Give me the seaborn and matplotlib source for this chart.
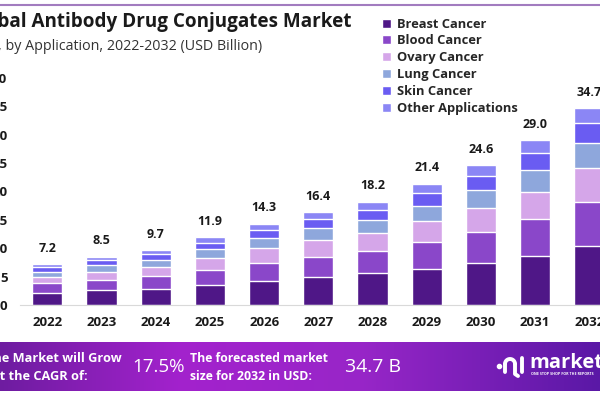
import matplotlib
matplotlib.use("Agg")
import matplotlib.pyplot as plt
import numpy as np
import pandas as pd
import seaborn as sns

# data (USD billion)
years = ["2022", "2023", "2024", "2025", "2026", "2027", "2028", "2029", "2030", "2031", "2032"]
breast = [2.2, 2.6, 2.9, 3.5, 4.3, 5.0, 5.6, 6.4, 7.45, 8.7, 10.45]
blood = [1.6, 1.85, 2.15, 2.75, 3.15, 3.5, 3.95, 4.75, 5.35, 6.45, 7.65]
ovary = [1.2, 1.45, 1.6, 1.95, 2.55, 2.95, 3.1, 3.65, 4.25, 4.8, 6.0]
lung = [0.9, 1.1, 1.3, 1.6, 1.75, 2.05, 2.35, 2.7, 3.2, 3.85, 4.4]
skin = [0.75, 0.85, 1.05, 1.05, 1.45, 1.65, 1.75, 2.3, 2.45, 2.95, 3.5]
other = [0.55, 0.65, 0.7, 1.05, 1.1, 1.25, 1.45, 1.6, 1.9, 2.25, 2.7]
totals = [7.2, 8.5, 9.7, 11.9, 14.3, 16.4, 18.2, 21.4, 24.6, 29.0, 34.7]

segments = ["Breast Cancer", "Blood Cancer", "Ovary Cancer", "Lung Cancer",
            "Skin Cancer", "Other Applications"]
colors = ["#4f1787", "#8a47c9", "#d5a6e9", "#8ea7dc", "#6a5cf2", "#8b86f5"]

df = pd.DataFrame({"year": years, "Breast Cancer": breast, "Blood Cancer": blood,
                   "Ovary Cancer": ovary, "Lung Cancer": lung, "Skin Cancer": skin,
                   "Other Applications": other})

sns.set_style("white")
plt.rcParams["font.family"] = ["Open Sans", "DejaVu Sans"]

fig = plt.figure(figsize=(6, 4), dpi=100)
ax = fig.add_axes([20 / 600, 1 - 305 / 400, 600 / 600, 227 / 400])

# stacked bars: draw cumulative heights from the top layer down
cum = df[segments].cumsum(axis=1)
for seg, col in reversed(list(zip(segments, colors))):
    sns.barplot(x=df["year"], y=cum[seg], color=col, width=0.555, saturation=1,
                ax=ax, label=seg, order=years)

for i, t in enumerate(totals):
    ax.text(i, t + 2.8, f"{t:.1f}", ha="center", va="center", fontsize=9,
            fontweight="bold", color="#1a1a1a")

ax.set_xlim(-0.504, 10.566)
ax.set_ylim(0, 40)
ax.set_yticks(range(0, 41, 5))
ax.set_xlabel("")
ax.set_ylabel("")
for s in ["top", "right", "left"]:
    ax.spines[s].set_visible(False)
ax.spines["bottom"].set_color("#d9d9d9")
ax.tick_params(axis="x", length=0, pad=8, labelsize=9.5, labelcolor="#1a1a1a")
ax.tick_params(axis="y", length=0, pad=9, labelsize=9.5, labelcolor="#1a1a1a")
for lbl in ax.get_xticklabels() + ax.get_yticklabels():
    lbl.set_fontweight("bold")

# legend in original order
handles, labels = ax.get_legend_handles_labels()
order = [labels.index(s) for s in segments]
fig.legend([handles[k] for k in order], segments, loc="upper left",
           bbox_to_anchor=(370 / 600, 1 - 6 / 400), frameon=False,
           handlelength=0.7, handleheight=0.7, handletextpad=0.5,
           labelspacing=0.3, prop={"weight": "bold", "size": 9.3})
if ax.get_legend():
    ax.get_legend().remove()

# title block (cropped on the left like the reference)
fig.text(352 / 600, 1 - 22 / 400, "Global Antibody Drug Conjugates Market", ha="right",
         va="center", fontsize=13.6, fontweight="bold", color="#1a1a1a")
fig.text(262 / 600, 1 - 47 / 400, "Market Size, by Application, 2022-2032 (USD Billion)",
         ha="right", va="center", fontsize=10.3, color="#333333")
fig.add_artist(plt.Line2D([0, 1], [1 - 4.5 / 400, 1 - 4.5 / 400], color="#a27cbf", lw=1.5))

# purple banner at the bottom
bax = fig.add_axes([0, 1 - 391 / 400, 1, 49 / 400])
stops = np.array([[0.0, 0x6e, 0x1c, 0xa0], [0.3, 0xa3, 0x22, 0xcd],
                  [0.6, 0x98, 0x26, 0xc8], [1.0, 0x5a, 0x18, 0xa6]])
xs = np.linspace(0, 1, 300)
grad = np.stack([np.interp(xs, stops[:, 0], stops[:, k]) / 255 for k in (1, 2, 3)], axis=-1)
bax.imshow(grad[None, :, :], aspect="auto", extent=[0, 1, 0, 1])
bax.set_axis_off()

fig.text(122 / 600, 1 - 358 / 400, "The Market will Grow", ha="right", va="center",
         fontsize=9.2, fontweight="bold", color="white")
fig.text(88 / 600, 1 - 376 / 400, "At the CAGR of:", ha="right", va="center",
         fontsize=9.2, fontweight="bold", color="white")
fig.text(132 / 600, 1 - 367 / 400, "17.5%", ha="left", va="center", fontsize=13.5,
         color="white")
fig.text(190 / 600, 1 - 358 / 400, "The forecasted market", ha="left", va="center",
         fontsize=8.8, fontweight="bold", color="white")
fig.text(190 / 600, 1 - 376 / 400, "size for 2032 in USD:", ha="left", va="center",
         fontsize=8.8, fontweight="bold", color="white")
fig.text(345 / 600, 1 - 367 / 400, "34.7 B", ha="left", va="center", fontsize=14,
         color="white")

# simplified market.us logo
t = np.linspace(np.pi, 0, 30)
fig.add_artist(plt.Line2D([499 / 600], [1 - 366 / 400], marker="o", ms=3, color="white"))
fig.add_artist(plt.Line2D((510 + 5 * np.cos(t)) / 600, (1 - 364 / 400) + 5 * np.sin(t) / 400,
                          color="white", lw=2.8, solid_capstyle="round"))
fig.add_artist(plt.Line2D([505 / 600, 505 / 600], [1 - 364 / 400, 1 - 372 / 400],
                          color="white", lw=2.8, solid_capstyle="round"))
fig.add_artist(plt.Line2D([515 / 600, 515 / 600, 518 / 600], [1 - 364 / 400, 1 - 374 / 400, 1 - 376 / 400],
                          color="white", lw=2.8, solid_capstyle="round"))
fig.add_artist(plt.Line2D([522 / 600, 522 / 600], [1 - 358 / 400, 1 - 372 / 400],
                          color="white", lw=2.8, solid_capstyle="round"))
fig.text(529 / 600, 1 - 363 / 400, "market.us", ha="left", va="center", fontsize=14.5,
         fontweight="bold", color="white")
fig.text(531 / 600, 1 - 374 / 400, "ONE STOP SHOP FOR THE REPORTS", ha="left",
         va="center", fontsize=2.6, fontweight="bold", color="white")

fig.savefig("out.png", dpi=100)
